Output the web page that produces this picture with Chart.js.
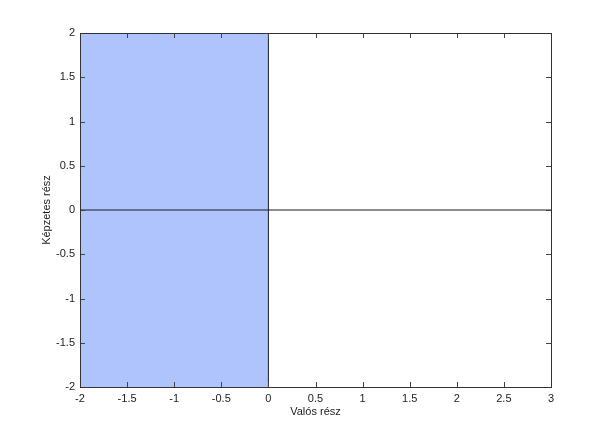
<!DOCTYPE html>
<html>
<head>
<meta charset="utf-8">
<script src="https://cdn.jsdelivr.net/npm/chart.js@4.4.0/dist/chart.umd.min.js"></script>
<style>
  body { margin: 0; background: #fff; }
  #wrap { width: 609px; height: 436px; }
</style>
</head>
<body>
<div id="wrap"><canvas id="c"></canvas></div>
<script>
// axis ranges and tick spacing
const xRange = [-2, 3];
const yRange = [-2, 2];
const tickStep = 0.5;

// shaded region (left half plane) and the two axis lines
const shadeX = [-2, 0];
const shadeTop = 2;
const hLineX = [-2, 3];
const vLineY = [-2, 2];

// draw the box and inward ticks on all four sides (MATLAB style)
const boxPlugin = {
    id: "box",
    afterDatasetsDraw(chart) {
        const { ctx, chartArea: a, scales } = chart;
        const len = 5;
        ctx.save();
        ctx.strokeStyle = "#444";
        ctx.lineWidth = 1;
        ctx.beginPath();
        scales.x.ticks.forEach(t => {
            const px = Math.round(scales.x.getPixelForValue(t.value)) + 0.5;
            ctx.moveTo(px, a.bottom); ctx.lineTo(px, a.bottom - len);
            ctx.moveTo(px, a.top); ctx.lineTo(px, a.top + len);
        });
        scales.y.ticks.forEach(t => {
            const py = Math.round(scales.y.getPixelForValue(t.value)) + 0.5;
            ctx.moveTo(a.left, py); ctx.lineTo(a.left + len, py);
            ctx.moveTo(a.right, py); ctx.lineTo(a.right - len, py);
        });
        ctx.stroke();
        ctx.strokeStyle = "#333";
        ctx.strokeRect(Math.round(a.left) + 0.5, Math.round(a.top) + 0.5,
            Math.round(a.right - a.left), Math.round(a.bottom - a.top));
        ctx.restore();
    }
};

const fmt = v => String(Math.round(v * 10) / 10);
const font = { family: "Liberation Sans, Arial", size: 11 };

new Chart(document.getElementById("c"), {
    type: "scatter",
    data: {
        datasets: [
            {
                data: hLineX.map(x => ({ x, y: 0 })),
                showLine: true,
                borderColor: "#1a1a2e",
                borderWidth: 1,
                pointRadius: 0,
                order: 0
            },
            {
                data: vLineY.map(y => ({ x: 0, y })),
                showLine: true,
                borderColor: "#1a1a2e",
                borderWidth: 1,
                pointRadius: 0,
                order: 0
            },
            {
                data: shadeX.map(x => ({ x, y: shadeTop })),
                showLine: true,
                fill: "start",
                backgroundColor: "#afc4fd",
                borderWidth: 0,
                pointRadius: 0,
                order: 5
            }
        ]
    },
    options: {
        responsive: true,
        maintainAspectRatio: false,
        animation: false,
        layout: { padding: { left: 40, top: 33, right: 58, bottom: 17 } },
        plugins: { legend: { display: false }, tooltip: { enabled: false } },
        scales: {
            x: {
                min: xRange[0], max: xRange[1],
                grid: { display: false, drawTicks: false },
                border: { display: false },
                afterFit: s => { s.height = 32; },
                ticks: {
                    stepSize: tickStep, padding: 5, color: "#222",
                    font, maxRotation: 0, autoSkip: false,
                    callback: fmt
                },
                title: {
                    display: true, text: "Valós rész", color: "#222",
                    font, padding: { top: 0, bottom: 0 }
                }
            },
            y: {
                min: yRange[0], max: yRange[1],
                grid: { display: false, drawTicks: false },
                border: { display: false },
                afterFit: s => { s.width = 40; },
                ticks: {
                    stepSize: tickStep, padding: 5, color: "#222",
                    font, autoSkip: false,
                    callback: fmt
                },
                title: {
                    display: true, text: "Képzetes rész", color: "#222",
                    font, padding: { top: 0, bottom: 0 }
                }
            }
        }
    },
    plugins: [boxPlugin]
});
</script>
</body>
</html>
